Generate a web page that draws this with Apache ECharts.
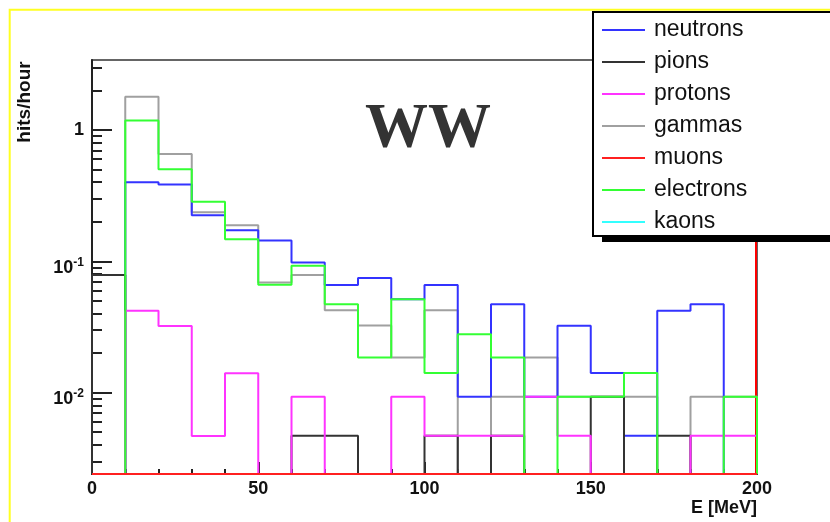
<!DOCTYPE html>
<html>
<head>
<meta charset="utf-8">
<script src="https://cdn.jsdelivr.net/npm/echarts@6/dist/echarts.min.js"></script>
<style>
html,body{margin:0;padding:0;background:#fff;}
#chart{width:830px;height:522px;}
</style>
</head>
<body>
<div id="chart"></div>
<script>
// Bin edges (E [MeV]); each histogram has 20 bins of 10 MeV
const binEdges = [0,10,20,30,40,50,60,70,80,90,100,110,120,130,140,150,160,170,180,190,200];
// hits/hour per bin (0 = empty bin, drawn on the axis floor as ROOT does on log scale)
const neutrons  = [0, 0.40, 0.385, 0.224, 0.172, 0.144, 0.098, 0.066, 0.0745, 0.0514, 0.066, 0.0093, 0.047, 0.0093, 0.0323, 0.0141, 0.0047, 0.0421, 0.047, 0];
const pions     = [0.0787, 0, 0, 0, 0, 0, 0.0047, 0.0047, 0, 0, 0.0047, 0, 0.0047, 0, 0, 0.0093, 0, 0.0047, 0, 0];
const protons   = [0, 0.042, 0.0322, 0.00468, 0.01405, 0, 0.0093, 0, 0, 0.0093, 0.0047, 0.0047, 0.0047, 0.0093, 0.0047, 0, 0, 0, 0.0047, 0.0047];
const gammas    = [0, 1.79, 0.657, 0.236, 0.188, 0.069, 0.0787, 0.0424, 0.0324, 0.0185, 0.0424, 0, 0.0093, 0.0185, 0.0093, 0.0093, 0.0093, 0, 0.0093, 0.0093];
const muons     = [0, 0, 0, 0, 0, 0, 0, 0, 0, 0, 0, 0, 0, 0, 0, 0, 0, 0, 0, 0];
const electrons = [0, 1.18, 0.502, 0.284, 0.147, 0.0664, 0.0926, 0.0471, 0.0185, 0.0514, 0.0141, 0.0278, 0.0185, 0, 0.0093, 0.0093, 0.0141, 0, 0, 0.0093];
const kaons     = [0, 0, 0, 0, 0, 0, 0, 0, 0, 0, 0, 0, 0, 0, 0, 0, 0, 0, 0, 0];

const legendOrder = ['neutrons','pions','protons','gammas','muons','electrons','kaons'];
const Y_MIN = 0.0024, Y_MAX = 3.41;
const yMajorTicks = [0.01, 0.1, 1];
const yMajorLabels = ['10^-2', '10^-1', '1'];
const yMinorTicks = [0.003,0.004,0.005,0.006,0.007,0.008,0.009,
                     0.02,0.03,0.04,0.05,0.06,0.07,0.08,0.09,
                     0.2,0.3,0.4,0.5,0.6,0.7,0.8,0.9, 2, 3];

function histPoints(vals){
  const f = v => (v > 0 ? v : Y_MIN);
  const pts = [[binEdges[0], Y_MIN]];
  for (let i = 0; i < vals.length; i++) pts.push([binEdges[i], f(vals[i])]);
  pts.push([binEdges[binEdges.length-1], Y_MIN]);
  return pts;
}

const FONT = 'Liberation Sans';
function hist(name, vals, color){
  return {
    name: name, type: 'line', step: 'end', data: histPoints(vals),
    symbol: 'none', showSymbol: false, clip: false, silent: true,
    color: color, lineStyle: {color: color, width: 2}
  };
}

const chart = echarts.init(document.getElementById('chart'), null, {renderer: 'canvas'});
const tickLine = {color: '#222', width: 2};
chart.setOption({
  animation: false,
  backgroundColor: '#fff',
  grid: {left: 92, right: 73, top: 60, bottom: 48, show: true, borderColor: '#333', borderWidth: 1.5, containLabel: false},
  xAxis: {
    type: 'value', min: 0, max: 200, interval: 50,
    axisLine: {show: true, onZero: false, lineStyle: tickLine},
    axisTick: {show: true, inside: true, length: 12, lineStyle: tickLine},
    minorTick: {show: true, splitNumber: 5, length: 5, lineStyle: tickLine},
    splitLine: {show: false}, minorSplitLine: {show: false},
    axisLabel: {margin: 6, fontSize: 18, fontWeight: 'bold', fontFamily: FONT, color: '#111'},
    name: 'E [MeV]', nameLocation: 'end', nameGap: 0,
    nameTextStyle: {align: 'right', verticalAlign: 'top', padding: [25, 0, 0, 0], fontSize: 18, fontWeight: 'bold', fontFamily: FONT, color: '#111'}
  },
  yAxis: [
    {
      type: 'log', logBase: 10, min: Y_MIN, max: Y_MAX, position: 'left',
      axisLine: {show: true, lineStyle: tickLine},
      axisTick: {show: true, inside: true, length: 20, customValues: yMajorTicks, lineStyle: tickLine},
      splitLine: {show: false},
      axisLabel: {
        show: true, margin: 8, customValues: yMajorTicks,
        formatter: function(v){
          let idx = -1;
          for (let i = 0; i < yMajorTicks.length; i++) if (Math.abs(Math.log10(v) - Math.log10(yMajorTicks[i])) < 1e-6) idx = i;
          if (idx < 0) return '';
          const lab = yMajorLabels[idx];
          if (lab.indexOf('^') < 0) return '{o|' + lab + '}';
          const parts = lab.split('^');
          return '{e|' + parts[0] + '}{s|' + parts[1] + '}';
        },
        rich: {
          o: {fontSize: 18, fontWeight: 'bold', fontFamily: FONT, color: '#111', lineHeight: 18},
          e: {fontSize: 18, fontWeight: 'bold', fontFamily: FONT, color: '#111', lineHeight: 18, padding: [13, 0, 0, 0]},
          s: {fontSize: 12, fontWeight: 'bold', fontFamily: FONT, color: '#111', lineHeight: 12, padding: [2, 0, 0, 0]}
        }
      }
    },
    {
      type: 'log', logBase: 10, min: Y_MIN, max: Y_MAX, position: 'left',
      axisLine: {show: false},
      axisTick: {show: true, inside: true, length: 10, customValues: yMinorTicks, lineStyle: tickLine},
      axisLabel: {show: false}, splitLine: {show: false}
    },
    {
      type: 'log', logBase: 10, min: Y_MIN, max: Y_MAX, position: 'right', offset: -1,
      axisLine: {show: true, lineStyle: {color: '#ff0000', width: 2}},
      axisTick: {show: false}, axisLabel: {show: false}, splitLine: {show: false}
    }
  ],
  legend: {
    orient: 'vertical', left: 593, top: 12, z: 5,
    data: legendOrder, selectedMode: false,
    icon: 'rect', itemWidth: 43, itemHeight: 2, itemGap: 8,
    padding: [6, 140, 2, 9],
    backgroundColor: '#fff', borderColor: '#000', borderWidth: 2,
    itemStyle: {borderWidth: 0},
    textStyle: {fontFamily: FONT, fontSize: 23, color: '#111', lineHeight: 24, padding: [0, 0, 0, 4]}
  },
  graphic: [
    {type: 'rect', z: 100, silent: true, shape: {x: 9.7, y: 9.7, width: 900, height: 600}, style: {fill: 'none', stroke: '#ffff22', lineWidth: 2}},
    {type: 'rect', z: 3, silent: true, shape: {x: 602, y: 18, width: 400, height: 224}, style: {fill: '#000'}},
    {type: 'text', z: 100, silent: true, x: 25, y: 102, rotation: Math.PI / 2,
     style: {text: 'hits/hour', font: 'bold 19px "Liberation Sans"', fill: '#111', textAlign: 'center', textVerticalAlign: 'middle'}},
    {type: 'text', z: 100, silent: true, x: 428, y: 131,
     style: {text: 'WW', font: 'bold 63px "Liberation Serif"', fill: '#333', textAlign: 'center', textVerticalAlign: 'middle'}}
  ],
  series: [
    hist('kaons', kaons, '#33ffff'),
    hist('gammas', gammas, '#a0a0a0'),
    hist('neutrons', neutrons, '#3333ff'),
    hist('pions', pions, '#333333'),
    hist('protons', protons, '#ff33ff'),
    hist('electrons', electrons, '#33ff33'),
    hist('muons', muons, '#ff2020')
  ]
});
</script>
</body>
</html>
